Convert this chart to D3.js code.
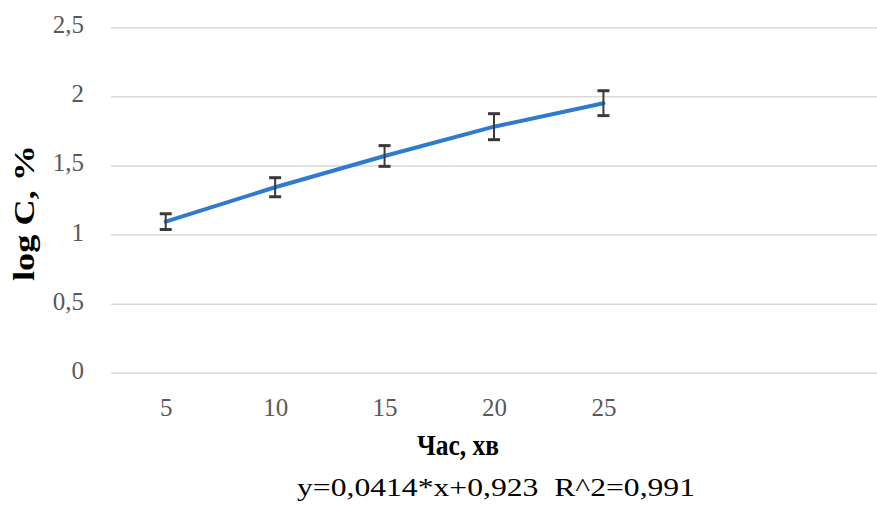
<!DOCTYPE html>
<html>
<head>
<meta charset="utf-8">
<script src="https://cdn.jsdelivr.net/npm/d3@7"></script>
<style>
  body { margin: 0; background: #fff; }
  svg text { font-family: "Liberation Serif", "Times New Roman", serif; }
</style>
</head>
<body>
<svg id="chart"></svg>
<script>
// time points (min) and measured log C values with error bars
const times = [5, 10, 15, 20, 25];
const logC = [1.097, 1.346, 1.572, 1.784, 1.954];
const errs = [0.057, 0.069, 0.075, 0.094, 0.090];
const yTicks = [0, 0.5, 1, 1.5, 2, 2.5];
const xTitle = "Час, хв";
const yTitle = "log C, %";
const equation = "y=0,0414*x+0,923  R^2=0,991";

const w = 877, h = 505;
const svg = d3.select("#chart").attr("width", w).attr("height", h);

// x has room for two empty categories after 25
const xScale = d3.scaleLinear().domain([2.5, 37.5]).range([111, 877]);
const yScale = d3.scaleLinear().domain([0, 2.5]).range([373.3, 27.7]);

const comma = d => String(d).replace(".", ",");

// gridlines
svg.append("g")
  .selectAll("line")
  .data(yTicks)
  .enter()
  .append("line")
    .attr("x1", 111)
    .attr("x2", w)
    .attr("y1", d => yScale(d))
    .attr("y2", d => yScale(d))
    .attr("stroke", "#d9d9d9")
    .attr("stroke-width", 1.4);

// y axis labels
const yAxis = d3.axisLeft(yScale).tickValues(yTicks).tickFormat(comma).tickSize(0).tickPadding(0);
const gy = svg.append("g").attr("transform", "translate(84,0)").call(yAxis);
gy.select(".domain").remove();
gy.selectAll("text")
  .attr("font-size", "25px")
  .attr("fill", "#595959")
  .attr("dy", "0.2em")
  .style("font-family", "'Liberation Serif', serif");

// x axis labels
const xAxis = d3.axisBottom(xScale).tickValues(times).tickFormat(d => d).tickSize(0).tickPadding(0);
const gx = svg.append("g").attr("transform", "translate(0,395)").call(xAxis);
gx.select(".domain").remove();
gx.selectAll("text")
  .attr("font-size", "25px")
  .attr("fill", "#595959")
  .attr("dy", "0.85em")
  .style("font-family", "'Liberation Serif', serif");

// line
const pts = times.map((t, i) => ({ t: t, v: logC[i], e: errs[i] }));
const line = d3.line().x(d => xScale(d.t)).y(d => yScale(d.v));
svg.append("path")
  .datum(pts)
  .attr("d", line)
  .attr("fill", "none")
  .attr("stroke", "#2e7ad1")
  .attr("stroke-width", 4)
  .attr("stroke-linecap", "round");

// error bars
const eb = svg.append("g").attr("stroke", "#3a3a3a");
eb.selectAll("line.v")
  .data(pts)
  .enter()
  .append("line")
    .attr("class", "v")
    .attr("x1", d => xScale(d.t))
    .attr("x2", d => xScale(d.t))
    .attr("y1", d => yScale(d.v + d.e))
    .attr("y2", d => yScale(d.v - d.e))
    .attr("stroke-width", 2);
[1, -1].forEach(s => {
  eb.selectAll("line.c" + (s > 0 ? "t" : "b"))
    .data(pts)
    .enter()
    .append("line")
      .attr("class", "c" + (s > 0 ? "t" : "b"))
      .attr("x1", d => xScale(d.t) - 6)
      .attr("x2", d => xScale(d.t) + 6)
      .attr("y1", d => yScale(d.v + s * d.e))
      .attr("y2", d => yScale(d.v + s * d.e))
      .attr("stroke-width", 3);
});

// axis titles
svg.append("text")
  .attr("transform", "translate(34,213) rotate(-90)")
  .attr("text-anchor", "middle")
  .attr("font-size", "30px")
  .attr("font-weight", "bold")
  .attr("fill", "#000")
  .attr("textLength", 136)
  .attr("lengthAdjust", "spacingAndGlyphs")
  .text(yTitle);

svg.append("text")
  .attr("x", 458)
  .attr("y", 455)
  .attr("text-anchor", "middle")
  .attr("font-size", "30px")
  .attr("font-weight", "bold")
  .attr("fill", "#000")
  .attr("textLength", 82)
  .attr("lengthAdjust", "spacingAndGlyphs")
  .text(xTitle);

// regression equation
svg.append("text")
  .attr("x", 297)
  .attr("y", 496)
  .attr("font-size", "25px")
  .attr("fill", "#000")
  .attr("textLength", 398)
  .attr("lengthAdjust", "spacingAndGlyphs")
  .style("white-space", "pre")
  .text(equation);
</script>
</body>
</html>
